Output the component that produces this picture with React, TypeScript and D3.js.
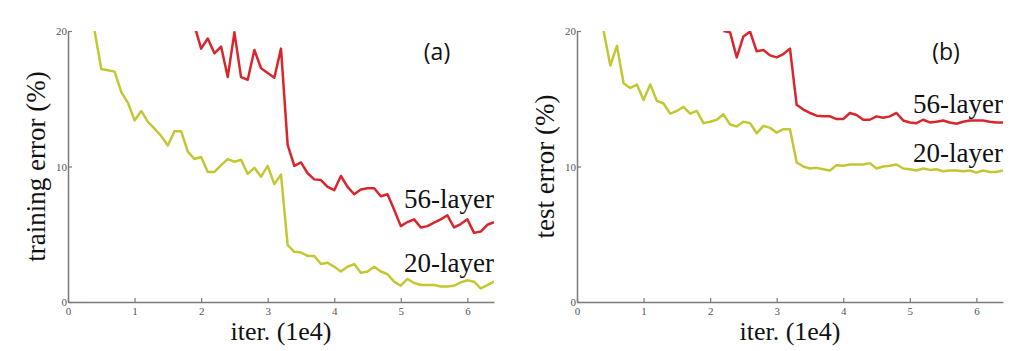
import { useEffect, useRef } from "react";
import * as d3 from "d3";

// iterations are sampled every 0.1 (x1e4)
const STEP = 0.1;

const trainStart20 = 0.4;
const train20 = [
  20.0, 17.2, 17.1, 17.0, 15.5, 14.7,
  13.4, 14.1, 13.3, 12.8, 12.25, 11.55, 12.6, 12.6, 11.1, 10.55,
  10.7, 9.6, 9.6, 10.1, 10.55, 10.35, 10.5, 9.45, 9.9, 9.25,
  10.05, 8.7, 9.4, 4.2, 3.7, 3.65, 3.4, 3.4, 2.8, 2.9,
  2.6, 2.25, 2.6, 2.8, 2.15, 2.25, 2.6, 2.25, 2.05, 1.5,
  1.2, 1.7, 1.4, 1.25, 1.25, 1.25, 1.15, 1.15, 1.2, 1.45,
  1.6, 1.5, 1.0, 1.25, 1.5,
];

const trainStart56 = 1.9;
const train56 = [
  20.4,
  18.7, 19.45, 18.35, 18.85, 16.6, 19.9, 16.6, 16.4, 18.6, 17.25,
  16.9, 16.55, 18.7, 11.6, 10.05, 10.3, 9.5, 9.05, 9.0, 8.5,
  8.25, 9.3, 8.5, 7.95, 8.3, 8.4, 8.4, 7.8, 7.95, 6.8,
  5.6, 5.9, 6.1, 5.5, 5.6, 5.85, 6.1, 6.4, 5.5, 5.75,
  6.1, 5.1, 5.2, 5.7, 5.9,
];

const testStart20 = 0.4;
const test20 = [
  20.0, 17.45, 18.9, 16.15, 15.8, 16.05,
  14.9, 16.05, 14.85, 14.65, 13.9, 14.1, 14.4, 13.9, 14.1, 13.2,
  13.3, 13.45, 13.85, 13.1, 12.95, 13.3, 13.2, 12.45, 13.0, 12.85,
  12.5, 12.75, 12.75, 10.3, 10.0, 9.85, 9.9, 9.8, 9.7, 10.1,
  10.05, 10.15, 10.15, 10.15, 10.25, 9.85, 10.0, 10.05, 10.15, 9.85,
  9.8, 9.7, 9.85, 9.75, 9.8, 9.65, 9.7, 9.7, 9.65, 9.7,
  9.55, 9.7, 9.6, 9.6, 9.7,
];

const testStart56 = 2.2;
const test56 = [
  20.0, 19.9, 18.05, 19.6, 19.95, 18.5, 18.6, 18.2,
  18.05, 18.3, 18.7, 14.55, 14.2, 13.95, 13.75, 13.7, 13.7, 13.5,
  13.5, 13.95, 13.8, 13.45, 13.45, 13.7, 13.6, 13.7, 13.95, 13.4,
  13.25, 13.2, 13.45, 13.25, 13.3, 13.4, 13.25, 13.15, 13.3, 13.4,
  13.4, 13.4, 13.3, 13.25, 13.25,
];

const xTicks = [0, 1, 2, 3, 4, 5, 6];
const yTicks = [0, 10, 20];

const RED = "#d8262c";
const YELLOW = "#c4c734";
const AXIS = "#7a7a7a";
const SERIF = "'Liberation Serif', 'Times New Roman', serif";

const panels = [
  {
    key: "a",
    left: 68,
    yLabel: "training error (%)",
    tag: "(a)",
    series: [
      { name: "56-layer", start: trainStart56, values: train56, color: RED, labelY: 208 },
      { name: "20-layer", start: trainStart20, values: train20, color: YELLOW, labelY: 272 },
    ],
  },
  {
    key: "b",
    left: 577,
    yLabel: "test error (%)",
    tag: "(b)",
    series: [
      { name: "56-layer", start: testStart56, values: test56, color: RED, labelY: 113 },
      { name: "20-layer", start: testStart20, values: test20, color: YELLOW, labelY: 162 },
    ],
  },
];

export default function App() {
  const svgRef = useRef<SVGSVGElement>(null);

  useEffect(() => {
    const svg = d3.select(svgRef.current);
    svg.selectAll("*").remove();

    const top = 31;
    const bottom = 302;
    const plotW = 426;

    panels.forEach((p) => {
      const x = d3.scaleLinear().domain([0, 6.4]).range([p.left, p.left + plotW]);
      const y = d3.scaleLinear().domain([0, 20]).range([bottom, top]);

      const g = svg.append("g");

      // clip lines to the axes box
      const clipId = `clip-${p.key}`;
      svg
        .append("clipPath")
        .attr("id", clipId)
        .append("rect")
        .attr("x", p.left)
        .attr("y", top)
        .attr("width", plotW)
        .attr("height", bottom - top);

      // axes (inward ticks, no box)
      const xAxis = g
        .append("g")
        .attr("transform", `translate(0,${bottom})`)
        .call(
          d3
            .axisBottom(x)
            .tickValues(xTicks)
            .tickSize(-4)
            .tickSizeOuter(0)
            .tickPadding(5)
            .tickFormat(d3.format("d"))
        );
      const yAxis = g
        .append("g")
        .attr("transform", `translate(${p.left},0)`)
        .call(
          d3
            .axisLeft(y)
            .tickValues(yTicks)
            .tickSize(-4)
            .tickSizeOuter(0)
            .tickPadding(3)
        );
      [xAxis, yAxis].forEach((ax) => {
        ax.select(".domain").attr("stroke", AXIS).attr("stroke-width", 1.5);
        ax.selectAll(".tick line").attr("stroke", AXIS).attr("stroke-width", 1.2);
        ax.selectAll(".tick text")
          .attr("fill", "#555")
          .style("font-family", SERIF)
          .style("font-size", "11px");
      });
      yAxis.selectAll(".tick text").attr("x", -1);

      // lines + end labels
      p.series.forEach((s) => {
        const gen = d3
          .line<number>()
          .x((_, i) => x(s.start + i * STEP))
          .y((d) => y(d));
        g.append("path")
          .attr("d", gen(s.values) ?? "")
          .attr("fill", "none")
          .attr("stroke", s.color)
          .attr("stroke-width", 2.5)
          .attr("stroke-linejoin", "round")
          .attr("clip-path", `url(#${clipId})`);

        g.append("text")
          .attr("x", p.left + plotW)
          .attr("y", s.labelY)
          .attr("text-anchor", "end")
          .style("font-family", SERIF)
          .style("font-size", "27px")
          .attr("fill", "#111")
          .text(s.name);
      });

      // panel tag
      g.append("text")
        .attr("x", p.left + plotW - 57)
        .attr("y", 60)
        .attr("text-anchor", "middle")
        .style("font-family", "'Open Sans', 'DejaVu Sans', sans-serif")
        .style("font-size", "23px")
        .attr("fill", "#111")
        .text(p.tag);

      // axis titles
      g.append("text")
        .attr("x", p.left + plotW / 2)
        .attr("y", 340)
        .attr("text-anchor", "middle")
        .style("font-family", SERIF)
        .style("font-size", "26px")
        .attr("fill", "#111")
        .text("iter. (1e4)");

      g.append("text")
        .attr("transform", `translate(${p.left - 23},${(top + bottom) / 2}) rotate(-90)`)
        .attr("text-anchor", "middle")
        .style("font-family", SERIF)
        .style("font-size", "27px")
        .attr("fill", "#111")
        .text(p.yLabel);
    });
  }, []);

  return (
    <svg
      ref={svgRef}
      width={1024}
      height={351}
      style={{ position: "absolute", left: 0, top: 0, background: "#fff" }}
    />
  );
}
